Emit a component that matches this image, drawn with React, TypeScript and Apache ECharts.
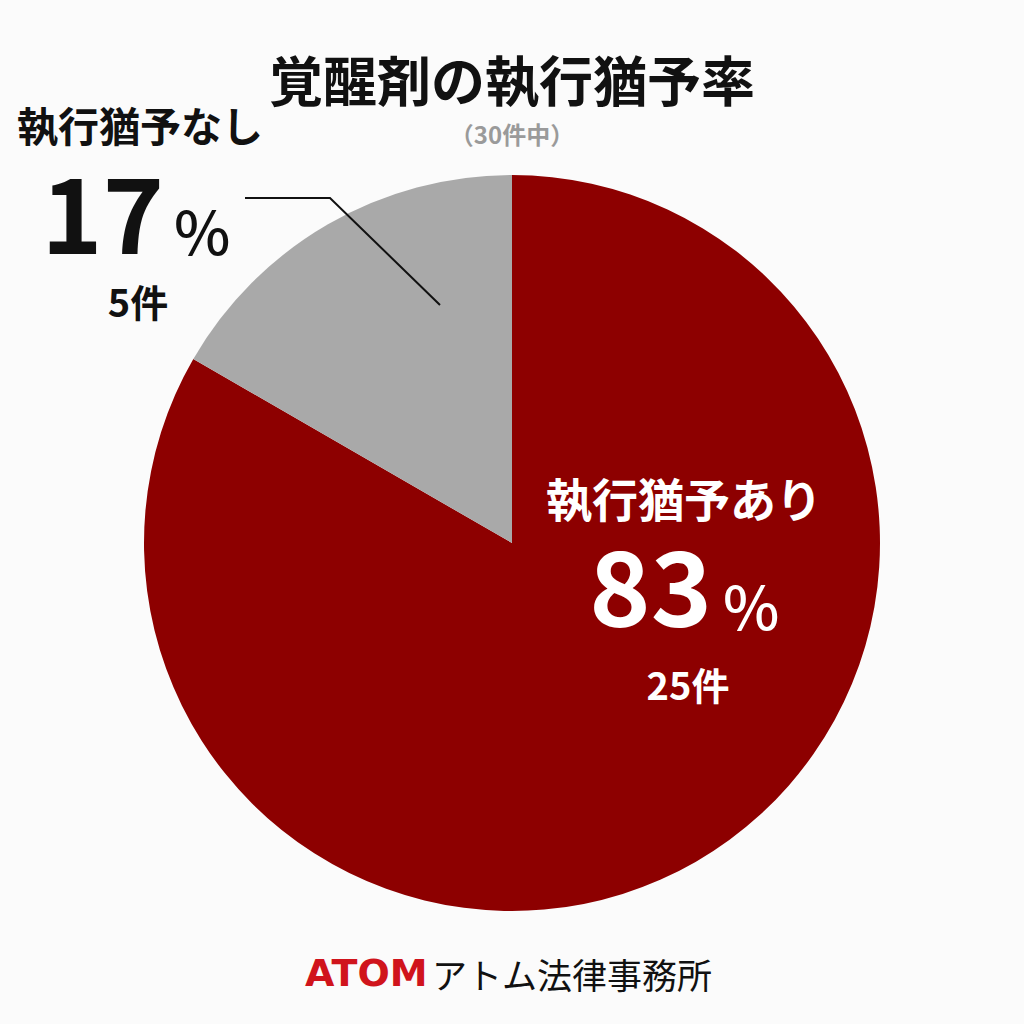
import React, { useEffect, useRef } from "react";
import * as echarts from "echarts";

const categories = ["執行猶予あり", "執行猶予なし"];
const counts = [25, 5];
const colors = ["#8d0000", "#a9a9a9"];
const titleText = "覚醒剤の執行猶予率";
const footerBrand = "ATOM";
const footerName = "アトム法律事務所";

const FONT = '"Noto Sans CJK JP", "Noto Sans", sans-serif';

export default function App() {
  const ref = useRef<HTMLDivElement>(null);
  useEffect(() => {
    document.body.style.margin = "0";
    const chart = echarts.init(ref.current!, null, { renderer: "svg" });
    const total = counts.reduce((a, b) => a + b, 0);
    const pct = counts.map((c) => Math.round((c / total) * 100));
    const t = (x: number, y: number, text: string, size: number, fill: string, weight: any, align = "center", family = FONT, lh = 0.85) => ({
      type: "text", x, y, z: 100,
      style: { text, fontFamily: family, fontWeight: weight, fontSize: size, lineHeight: Math.round(size * lh), fill, textAlign: align, textVerticalAlign: "middle" },
    });
    chart.setOption({
      animation: false,
      backgroundColor: "#fbfbfb",
      series: [
        {
          type: "pie",
          center: [512, 543],
          radius: 368,
          startAngle: 90,
          clockwise: true,
          label: { show: false },
          labelLine: { show: false },
          emphasis: { disabled: true },
          silent: true,
          data: categories.map((name, i) => ({
            name,
            value: counts[i],
            itemStyle: { color: colors[i] },
          })),
        },
      ],
      graphic: [
        t(512, 78, titleText, 54, "#111", "bold"),
        t(512, 133, `（${total}件中）`, 24, "#9a9a9a", "bold"),
        // gray slice label
        t(140, 124, categories[1], 41, "#111", "bold"),
        t(164, 208, String(pct[1]), 104, "#111", "bold", "right", FONT, 0.75),
        t(174, 228, "%", 60, "#111", 500, "left", FONT, 0.75),
        t(138, 300, `${counts[1]}件`, 38, "#111", "bold"),
        {
          type: "polyline", z: 100,
          shape: { points: [[440, 305], [330, 198], [245, 198]] },
          style: { stroke: "#111", lineWidth: 2, fill: "none" },
          silent: true,
        },
        // red slice label
        t(684, 497, categories[0], 46, "#fff", "bold"),
        t(712, 581, String(pct[0]), 104, "#fff", "bold", "right", FONT, 0.75),
        t(723, 603, "%", 60, "#fff", 500, "left", FONT, 0.75),
        t(688, 683, `${counts[0]}件`, 38, "#fff", "bold"),
        // footer
        t(305, 973, footerBrand, 38, "#d0141c", "bold", "left", '"DejaVu Sans", sans-serif'),
        t(432, 973, footerName, 35, "#111", "normal", "left"),
      ],
    });
    return () => chart.dispose();
  }, []);
  return <div ref={ref} style={{ width: 1024, height: 1024 }} />;
}
